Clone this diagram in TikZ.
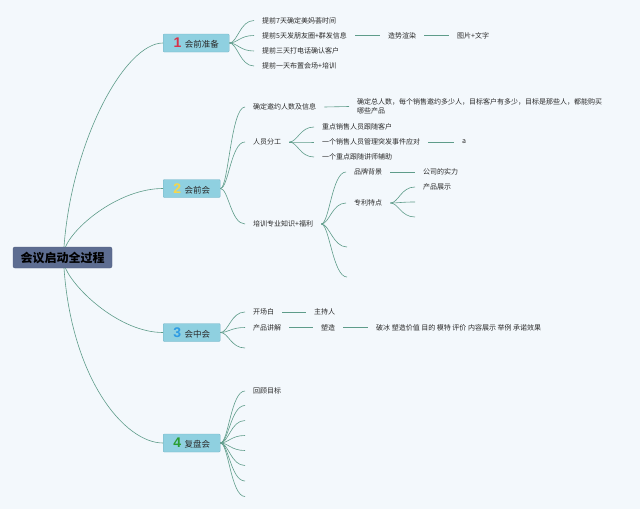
\documentclass[tikz,border=0pt]{standalone}
\usepackage{fontspec}
\setmainfont{Noto Sans CJK SC}
\newfontfamily\digitfont{Liberation Sans}
\definecolor{bg}{HTML}{F3F8FC}
\definecolor{lnk}{HTML}{5E9C8A}
\definecolor{boxfill}{HTML}{8FD0E0}
\definecolor{boxdraw}{HTML}{74B4C6}
\definecolor{rootfill}{HTML}{5D6D91}
\definecolor{rootdraw}{HTML}{4E5D7E}
\definecolor{txt}{HTML}{2A2A2A}
\definecolor{dred}{HTML}{D8334A}
\definecolor{dyel}{HTML}{F5D64B}
\definecolor{dblu}{HTML}{2E9BE3}
\definecolor{dgrn}{HTML}{2A9E32}
\newcommand\dig[2]{{\digitfont\fontsize{14}{14}\selectfont\bfseries\color{#1}#2}\hspace{3.5pt}}
\tikzset{
  leaf/.style={anchor=west, inner xsep=8pt, inner ysep=1pt, font=\fontsize{7}{9}\selectfont, text=txt},
  mainbox/.style={rectangle, rounded corners=1pt, fill=boxfill, draw=boxdraw, line width=0.4pt,
    minimum height=18pt, minimum width=57pt, anchor=west, font=\fontsize{8.5}{10}\selectfont, text=txt, inner sep=2pt},
  rootbox/.style={rectangle, rounded corners=2pt, fill=rootfill, draw=rootdraw, line width=0.4pt,
    minimum height=21pt, minimum width=99pt, font=\fontsize{12}{14}\selectfont\bfseries, text=black},
  link/.style={draw=lnk, line width=0.6pt},
}
\newcommand\fan[2]{\draw[link] (#1) .. controls +(8,0) and +(-14,0) .. (#2);}
\begin{document}
\begin{tikzpicture}[x=1pt,y=-1pt]
\fill[bg] (0,0) rectangle (640,509);
\useasboundingbox (0,0) rectangle (640,509);

% root
\node[rootbox] (root) at (62.5,257.5) {会议启动全过程};

% main boxes
\node[mainbox, minimum width=66pt] (b1) at (163,43) {\dig{dred}{1}会前准备};
\node[mainbox] (b2) at (163,188.5) {\dig{dyel}{2}会前会};
\node[mainbox] (b3) at (163,332.5) {\dig{dblu}{3}会中会};
\node[mainbox] (b4) at (163,443) {\dig{dgrn}{4}复盘会};

\draw[link] ([xshift=1.5pt]root.north) .. controls (72,140) and (125,43) .. (b1.west);
\draw[link] ([xshift=3pt]root.north) .. controls (75,225) and (120,188.5) .. (b2.west);
\draw[link] ([xshift=3pt]root.south) .. controls (75,290) and (120,332.5) .. (b3.west);
\draw[link] ([xshift=1.5pt]root.south) .. controls (72,380) and (125,443) .. (b4.west);

% branch 1
\node[leaf] (a1) at (254,20.5) {提前7天确定美妈荟时间};
\node[leaf] (a2) at (254,35.5) {提前5天发朋友圈+群发信息};
\node[leaf] (a3) at (254,51) {提前三天打电话确认客户};
\node[leaf] (a4) at (254,66) {提前一天布置会场+培训};
\node[leaf] (a21) at (380,35.5) {造势渲染};
\node[leaf] (a22) at (449,35.5) {图片+文字};
\foreach \c in {a1,a2,a3,a4} {\fan{b1.east}{\c.west}}
\draw[link] (a2.east) -- (a21.west);
\draw[link] (a21.east) -- (a22.west);

% branch 2
\node[leaf] (c1) at (245,107) {确定邀约人数及信息};
\node[leaf, align=left] (c11) at (349,106.5) {确定总人数，每个销售邀约多少人，目标客户有多少，目标是那些人，都能购买\\哪些产品};
\node[leaf] (c2) at (245,142) {人员分工};
\node[leaf] (c21) at (314,127) {重点销售人员跟随客户};
\node[leaf] (c22) at (314,142) {一个销售人员管理突发事件应对};
\node[leaf] (c23) at (314,157) {一个重点跟随讲师辅助};
\node[leaf] (c221) at (454,142) {a};
\node[leaf] (c3) at (245,224) {培训专业知识+福利};
\node[leaf] (c31) at (346,172) {品牌背景};
\node[leaf] (c311) at (415,172) {公司的实力};
\node[leaf] (c32) at (346,203) {专利特点};
\node[leaf] (c321) at (415,187) {产品展示};
\coordinate (c322) at (415,202);
\coordinate (c323) at (415,217);
\coordinate (c33) at (347,247);
\coordinate (c34) at (347,277);
\foreach \c in {c1,c2,c3} {\fan{b2.east}{\c.west}}
\draw[link] (c1.east) -- (c11.west);
\foreach \c in {c21,c22,c23} {\fan{c2.east}{\c.west}}
\draw[link] (c22.east) -- (c221.west);
\foreach \c in {c31.west,c32.west,c33,c34} {\fan{c3.east}{\c}}
\draw[link] (c31.east) -- (c311.west);
\foreach \c in {c321.west,c322,c323} {\fan{c32.east}{\c}}

% branch 3
\node[leaf] (d1) at (245,312) {开场白};
\node[leaf] (d11) at (306,312) {主持人};
\node[leaf] (d2) at (245,327.5) {产品讲解};
\node[leaf] (d21) at (313,327.5) {塑造};
\node[leaf] (d211) at (368,327.5) {破冰 塑造价值 目的 模特 评价 内容展示 举例 承诺效果};
\coordinate (d3) at (245,348);
\foreach \c in {d1.west,d2.west,d3} {\fan{b3.east}{\c}}
\draw[link] (d1.east) -- (d11.west);
\draw[link] (d2.east) -- (d21.west);
\draw[link] (d21.east) -- (d211.west);

% branch 4
\node[leaf] (e1) at (245,391) {回顾目标};
\foreach \i/\y in {2/405.5,3/420.5,4/435.5,5/450.5,6/465.5,7/481,8/496.5} {\coordinate (e\i) at (245,\y);}
\fan{b4.east}{e1.west}
\foreach \i in {2,...,8} {\fan{b4.east}{e\i}}
\end{tikzpicture}
\end{document}
